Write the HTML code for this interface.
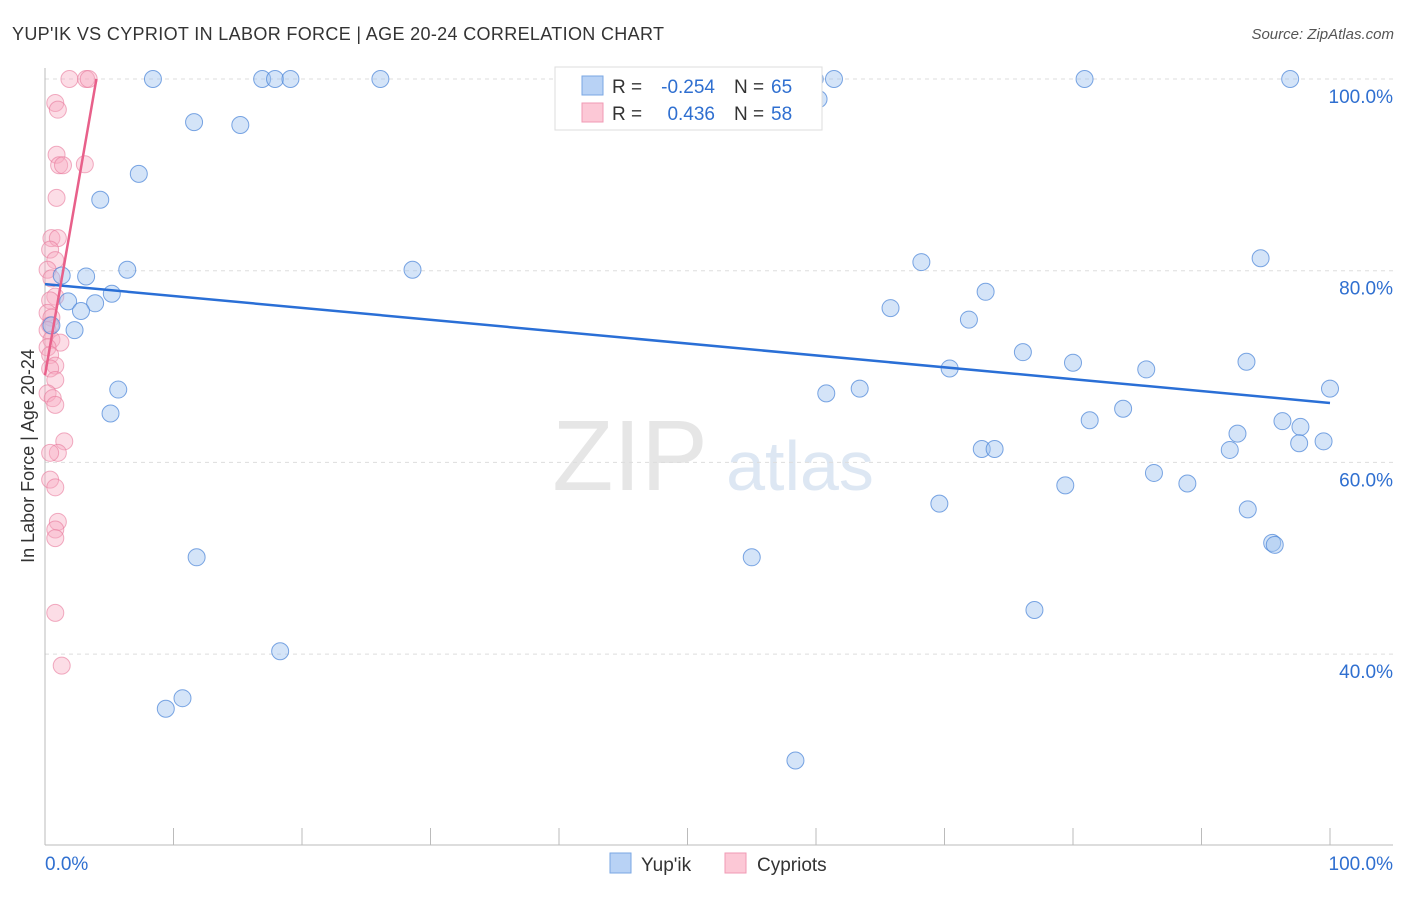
<!DOCTYPE html>
<html><head><meta charset="utf-8"><style>
body{margin:0;background:#fff;font-family:"Liberation Sans",sans-serif}
svg text{font-family:"Liberation Sans",sans-serif}
</style></head><body>
<svg width="1406" height="892">
<text x="12" y="40" font-size="18" fill="#333" textLength="652">YUP'IK VS CYPRIOT IN LABOR FORCE | AGE 20-24 CORRELATION CHART</text>
<text x="1394" y="39" font-size="15" fill="#555" text-anchor="end" font-style="italic">Source: ZipAtlas.com</text>
<text x="630" y="490" font-size="100" fill="#e6e6e6" font-family="Liberation Serif" text-anchor="middle">ZIP</text>
<text x="800" y="490" font-size="70" fill="#dde7f3" text-anchor="middle">atlas</text>
<g id="grid"></g>
<g id="axes"></g>
<g id="pts"></g>
<g id="lines"></g>
<text x="34" y="456" font-size="18" fill="#333" text-anchor="middle" transform="rotate(-90 34 456)">In Labor Force | Age 20-24</text>
<g>
<rect x="555" y="67" width="267" height="63" fill="#fff" stroke="#ddd"/>
<rect x="582" y="76" width="21" height="19" fill="#b8d2f5" stroke="#7aa7e3"/>
<rect x="582" y="103" width="21" height="19" fill="#fcc8d6" stroke="#f09ab4"/>
<text x="612" y="93" font-size="19" fill="#333">R =</text>
<text x="715" y="93" font-size="19" fill="#2f6fd0" text-anchor="end">-0.254</text>
<text x="734" y="93" font-size="19" fill="#333">N =</text>
<text x="771" y="93" font-size="19" fill="#2f6fd0">65</text>
<text x="612" y="120" font-size="19" fill="#333">R =</text>
<text x="715" y="120" font-size="19" fill="#2f6fd0" text-anchor="end">0.436</text>
<text x="734" y="120" font-size="19" fill="#333">N =</text>
<text x="771" y="120" font-size="19" fill="#2f6fd0">58</text>
</g>
<g>
<rect x="610" y="853" width="21" height="20" fill="#b8d2f5" stroke="#7aa7e3"/>
<text x="641" y="871" font-size="19" fill="#333">Yup'ik</text>
<rect x="725" y="853" width="21" height="20" fill="#fcc8d6" stroke="#f09ab4"/>
<text x="757" y="871" font-size="19" fill="#333">Cypriots</text>
</g>
</svg>
<script>
const yTicks=[40,60,80,100];
const yTickLabels=["40.0%","60.0%","80.0%","100.0%"];
const xTicks=[0,10,20,30,40,50,60,70,80,90,100];
const blueX=[8.4,16.9,17.9,19.1,26.1,59.9,61.4,80.9,96.9,60.2,11.6,15.2,7.3,4.3,6.4,3.2,1.3,28.6,68.2,94.6,5.2,3.9,1.8,2.8,0.5,2.3,65.8,73.2,71.9,76.1,80.0,70.4,85.7,93.5,100,60.8,63.4,5.7,5.1,81.3,83.9,96.3,97.7,92.8,97.6,99.5,72.9,73.9,92.2,86.3,79.4,88.9,69.6,93.6,95.5,95.7,11.8,55.0,77.0,18.3,10.7,9.4,58.4];
const blueY=[100,100,100,100,100,100,100,100,100,97.9,95.5,95.2,90.1,87.4,80.1,79.4,79.5,80.1,80.9,81.3,77.6,76.6,76.8,75.8,74.3,73.8,76.1,77.8,74.9,71.5,70.4,69.8,69.7,70.5,67.7,67.2,67.7,67.6,65.1,64.4,65.6,64.3,63.7,63.0,62.0,62.2,61.4,61.4,61.3,58.9,57.6,57.8,55.7,55.1,51.6,51.4,50.1,50.1,44.6,40.3,35.4,34.3,28.9];
const pinkX=[1.9,3.2,3.4,0.8,1.0,0.9,1.1,1.4,3.1,0.9,0.5,1.0,0.4,0.8,0.2,0.5,0.8,0.4,0.2,0.5,0.4,0.2,0.5,1.2,0.2,0.4,0.8,0.4,0.8,0.2,0.6,0.8,1.5,1.0,0.4,0.4,0.8,1.0,0.8,0.8,0.8,1.3];
const pinkY=[100,100,100,97.5,96.8,92.1,91.0,91.0,91.1,87.6,83.4,83.4,82.2,81.1,80.1,79.2,77.3,76.9,75.6,75.1,74.3,73.8,72.8,72.5,72.0,71.2,70.1,69.8,68.6,67.2,66.7,66.0,62.2,61.0,61.0,58.2,57.4,53.8,53.0,52.1,44.3,38.8];
const blueTrend=[[0,78.6],[100,66.2]];
const pinkTrend=[[0,69.1],[4.0,100]];
const NS="http://www.w3.org/2000/svg";
const sx=v=>45+v*12.85, sy=v=>79+(100-v)*9.585;
function mk(p,t,a){const e=document.createElementNS(NS,t);for(const k in a)e.setAttribute(k,a[k]);document.getElementById(p).appendChild(e);return e;}
yTicks.forEach((t,i)=>{
 const g=mk('grid','line',{x1:45,x2:1393,y1:sy(t),y2:sy(t),stroke:'#ddd','stroke-dasharray':'4,4'});
 
 
 const l=mk('grid','text',{x:1393,y:sy(t)+24,'text-anchor':'end','font-size':19,fill:'#2f6fd0'});
 l.textContent=yTickLabels[i];
 
 
});
const ax=mk('axes','line',{x1:45,x2:1393,y1:845,y2:845,stroke:'#bbb'});


const ay=mk('axes','line',{x1:45,x2:45,y1:68,y2:845,stroke:'#bbb'});


xTicks.forEach(t=>{const e=mk('axes','line',{x1:sx(t),x2:sx(t),y1:828,y2:845,stroke:'#bbb'});
 
 });
[[0,'0.0%','start',45],[100,'100.0%','end',1393]].forEach(d=>{const e=mk('axes','text',{x:d[3],y:870,'font-size':19,fill:'#2f6fd0','text-anchor':d[2]});e.textContent=d[1];
 
 });
pinkX.forEach((x,i)=>{const c=mk('pts','circle',{cx:sx(x),cy:sy(pinkY[i]),r:8.5,fill:'rgba(248,170,192,0.4)',stroke:'rgba(232,120,155,0.6)'});
 
 });
blueX.forEach((x,i)=>{const c=mk('pts','circle',{cx:sx(x),cy:sy(blueY[i]),r:8.5,fill:'rgba(160,195,240,0.45)',stroke:'rgba(70,130,215,0.7)'});
 
 });
const bt=mk('lines','line',{x1:sx(blueTrend[0][0]),y1:sy(blueTrend[0][1]),x2:sx(blueTrend[1][0]),y2:sy(blueTrend[1][1]),stroke:'#2a6fd6','stroke-width':2.5});


const pt=mk('lines','line',{x1:sx(pinkTrend[0][0]),y1:sy(pinkTrend[0][1]),x2:sx(pinkTrend[1][0]),y2:sy(pinkTrend[1][1]),stroke:'#e8608a','stroke-width':2.5});


</script>
</body></html>
